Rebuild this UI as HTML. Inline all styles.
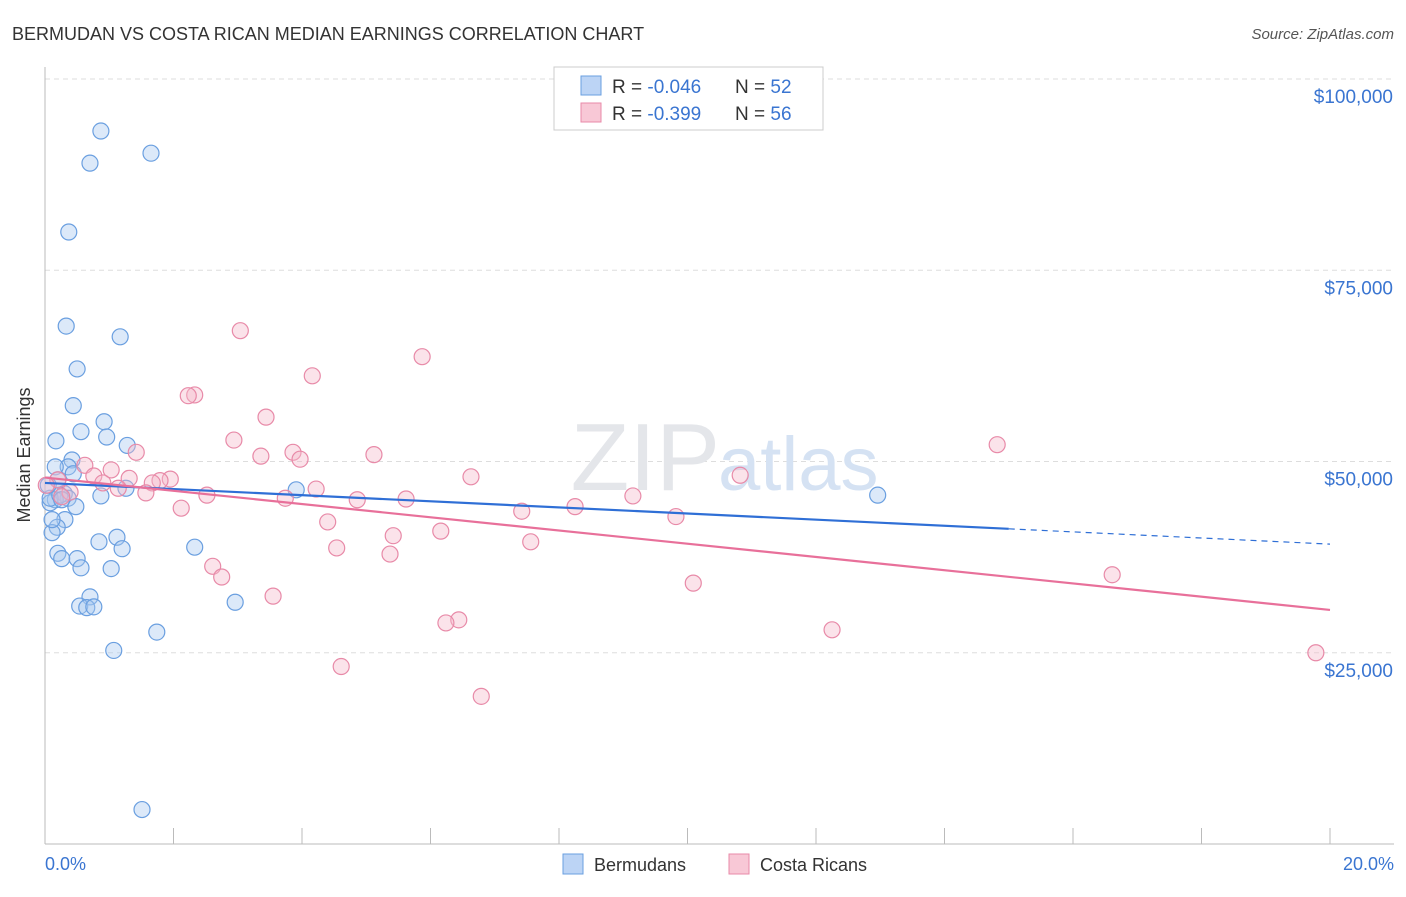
<!DOCTYPE html>
<html><head><meta charset="utf-8"><style>
body{margin:0;background:#fff;font-family:"Liberation Sans",sans-serif;}
svg text{font-family:"Liberation Sans",sans-serif;}
</style></head><body>
<svg id="c" width="1406" height="892">
<text x="12" y="40" font-size="18" fill="#333">BERMUDAN VS COSTA RICAN MEDIAN EARNINGS CORRELATION CHART</text>
<text x="1394" y="39" font-size="15" fill="#555" font-style="italic" text-anchor="end">Source: ZipAtlas.com</text>
<g id="grid"></g>
<text x="720" y="490" font-size="96" fill="#e4e6ea" text-anchor="end" font-family="Liberation Serif">ZIP</text>
<text x="718" y="490" font-size="76" fill="#d5e2f3">atlas</text>
<g id="pts"></g>
<g id="lines"></g>
<text x="30" y="455" font-size="18" fill="#333" text-anchor="middle" transform="rotate(-90 30 455)">Median Earnings</text>
<text x="45" y="870" font-size="18" fill="#3a75d1">0.0%</text>
<text x="1394" y="870" font-size="18" fill="#3a75d1" text-anchor="end">20.0%</text>
<g>
<rect x="554" y="67" width="269" height="63" fill="#fff" stroke="#ccc"/>
<rect x="581" y="76" width="20" height="19" fill="#bcd4f5" stroke="#6a9fe0"/>
<rect x="581" y="103" width="20" height="19" fill="#f8c8d6" stroke="#e88aa8"/>
<text x="612" y="93" font-size="19" fill="#333">R = <tspan fill="#3a75d1">-0.046</tspan><tspan x="735">N = </tspan><tspan fill="#3a75d1">52</tspan></text>
<text x="612" y="120" font-size="19" fill="#333">R = <tspan fill="#3a75d1"> -0.399</tspan><tspan x="735">N = </tspan><tspan fill="#3a75d1">56</tspan></text>
</g>
<g>
<rect x="563" y="854" width="20" height="20" fill="#bcd4f5" stroke="#6a9fe0"/>
<text x="594" y="871" font-size="18" fill="#333">Bermudans</text>
<rect x="729" y="854" width="20" height="20" fill="#f8c8d6" stroke="#e88aa8"/>
<text x="760" y="871" font-size="18" fill="#333">Costa Ricans</text>
</g>
</svg>
<script>
const yTicks=[25000,50000,75000,100000];
const yTickLabels=["$25,000","$50,000","$75,000","$100,000"];
const xTicks=[0,2,4,6,8,10,12,14,16,18,20];
const bermX=[0.87,0.70,1.65,0.37,0.33,1.17,0.50,0.44,0.92,0.56,0.17,1.28,0.96,0.42,0.36,0.16,0.20,0.44,1.26,0.87,0.30,0.36,0.16,0.48,0.08,0.31,0.19,0.11,1.12,0.84,1.20,0.20,0.26,0.50,0.56,1.03,2.33,0.70,0.54,0.65,0.76,2.96,1.74,1.07,3.91,12.96,1.51,0.08,0.23,0.26,0.05,0.11];
const bermY=[93.2,89.0,90.3,80.0,67.7,66.3,62.1,57.3,55.2,53.9,52.7,52.1,53.2,50.2,49.3,49.3,47.6,48.4,46.5,45.5,45.8,45.2,45.0,44.1,44.6,42.4,41.4,40.7,40.1,39.5,38.6,38.0,37.3,37.3,36.1,36.0,38.8,32.3,31.1,30.9,31.0,31.6,27.7,25.3,46.3,45.6,4.5,45.2,45.6,45.0,46.9,42.4];
const costaX=[3.04,5.87,4.16,2.33,2.23,3.44,2.94,1.42,3.86,3.36,5.12,3.97,0.62,1.03,0.76,1.31,1.95,1.79,1.67,0.90,1.14,1.57,2.52,4.22,3.74,4.86,5.62,6.63,10.82,14.82,9.15,8.25,7.42,2.12,9.82,4.40,6.16,5.42,7.56,4.54,5.37,2.61,2.75,3.55,10.09,16.61,6.44,6.24,12.25,4.61,6.79,19.78,0.20,0.39,0.26,0.02];
const costaY=[67.1,63.7,61.2,58.7,58.6,55.8,52.8,51.2,51.2,50.7,50.9,50.3,49.5,48.9,48.1,47.8,47.7,47.5,47.2,47.2,46.5,45.9,45.6,46.4,45.2,45.0,45.1,48.0,48.2,52.2,45.5,44.1,43.5,43.9,42.8,42.1,40.9,40.3,39.5,38.7,37.9,36.3,34.9,32.4,34.1,35.2,29.3,28.9,28.0,23.2,19.3,25.0,47.6,46.0,45.4,46.9];
const bermTrend=[47200,39200]; const bermSolidEnd=15.0;
const costaTrend=[47900,30600];
const NS="http://www.w3.org/2000/svg";
const X=p=>45+p*64.25, Y=v=>844-v*(765/100000);
function mk(t,a,p){const e=document.createElementNS(NS,t);for(const k in a)e.setAttribute(k,a[k]);document.getElementById(p).appendChild(e);return e;}
yTicks.forEach((v,i)=>{
 const l=mk('line',{x1:45,x2:1394,y1:Y(v),y2:Y(v),stroke:'#ddd','stroke-dasharray':'5,4'},'grid');
 
 
 const t=mk('text',{x:1393,y:Y(v)+24,'font-size':19,fill:'#3a75d1','text-anchor':'end'},'grid');t.textContent=yTickLabels[i];
 
 
});
mk('line',{x1:45,x2:1394,y1:79,y2:79,stroke:'#ddd','stroke-dasharray':'5,4'},'grid');
mk('line',{x1:45,x2:45,y1:67,y2:844,stroke:'#bbb'},'grid');
mk('line',{x1:45,x2:1394,y1:844,y2:844,stroke:'#bbb'},'grid');
xTicks.forEach(p=>{const l=mk('line',{x1:X(p),x2:X(p),y1:828,y2:844,stroke:'#bbb'},'grid');
 
 });
function pts(xs,ys,f,s,n){xs.forEach((x,i)=>{const c=mk('circle',{cx:X(x),cy:Y(ys[i]*1000),r:8,fill:f,'fill-opacity':0.4,stroke:s,'stroke-width':1.2},'pts');
 
 });}
pts(bermX,bermY,'#a8c8f0','#6a9fe0','bermudan-point');
pts(costaX,costaY,'#f5b8cb','#e88aa8','costa-rican-point');
const bAt=p=>bermTrend[0]+(bermTrend[1]-bermTrend[0])*p/20;
let l=mk('line',{x1:X(0),y1:Y(bAt(0)),x2:X(bermSolidEnd),y2:Y(bAt(bermSolidEnd)),stroke:'#2f6fd6','stroke-width':2.2},'lines');


l=mk('line',{x1:X(bermSolidEnd),y1:Y(bAt(bermSolidEnd)),x2:X(20),y2:Y(bAt(20)),stroke:'#2f6fd6','stroke-width':1.2,'stroke-dasharray':'6,5'},'lines');


l=mk('line',{x1:X(0),y1:Y(costaTrend[0]),x2:X(20),y2:Y(costaTrend[1]),stroke:'#e8709a','stroke-width':2.2},'lines');


</script>
</body></html>
